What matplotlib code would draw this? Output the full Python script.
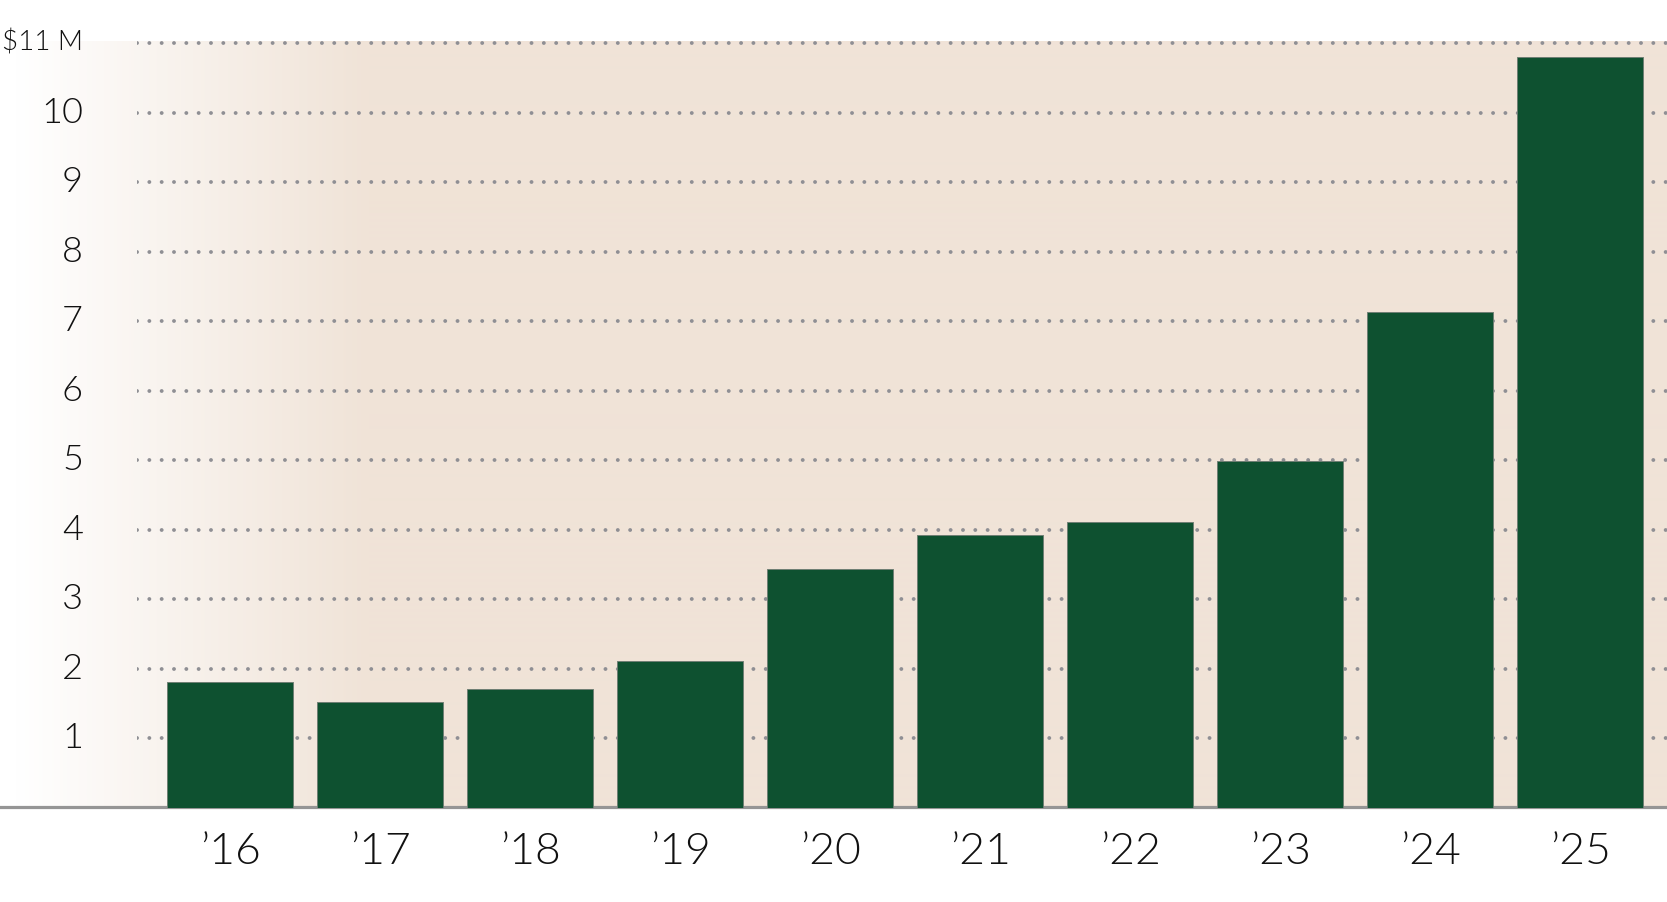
import matplotlib
matplotlib.use('Agg')
import matplotlib.pyplot as plt
import numpy as np
from matplotlib.colors import LinearSegmentedColormap
from matplotlib.lines import Line2D
from matplotlib.transforms import ScaledTranslation

# ---- data ----
years = ["\u201916", "\u201917", "\u201918", "\u201919", "\u201920",
         "\u201921", "\u201922", "\u201923", "\u201924", "\u201925"]
values = [1.81, 1.53, 1.71, 2.12, 3.43, 3.93, 4.12, 4.99, 7.14, 10.80]
y_ticks = [1, 2, 3, 4, 5, 6, 7, 8, 9, 10, 11]
y_tick_labels = ["1", "2", "3", "4", "5", "6", "7", "8", "9", "10", "$11 M"]

plt.rcParams['font.family'] = ['Lato', 'DejaVu Sans']

W, H = 1667, 903
fig = plt.figure(figsize=(W / 100, H / 100), dpi=100)
fig.patch.set_facecolor('white')

bottom_px = 94
top_px = 861
beige = '#f0e3d7'
bar_color = '#0e5130'

# background gradient panel
bg = fig.add_axes([0, bottom_px / H, 1, (top_px - bottom_px) / H], zorder=0)
xs = np.arange(W)
grad = np.clip((xs - 15) / 355.0, 0, 1)
cmap = LinearSegmentedColormap.from_list('bg', ['#ffffff', beige])
bg.imshow(grad[None, :], aspect='auto', cmap=cmap, vmin=0, vmax=1,
          extent=[0, W, 0, 1], interpolation='bilinear')
bg.set_xlim(0, W)
bg.set_ylim(0, 1)
bg.axis('off')

# baseline across full width
fig.add_artist(Line2D([0, 1], [(H - 807.5) / H] * 2, color='#959595',
                      lw=2.3, zorder=0.5, transform=fig.transFigure))

# main axes
ax = fig.add_axes([137 / W, bottom_px / H, 1 - 137 / W, (top_px - bottom_px) / H], zorder=1)
ax.patch.set_visible(False)
x = np.arange(len(years))
ax.bar(x, values, width=0.84, color=bar_color, edgecolor='#6f7f74',
       linewidth=0.7, zorder=3)
for v in y_ticks:
    ax.axhline(v, color='#8f8f94', lw=2.8, linestyle=(0, (0.01, 3.16)),
               dash_capstyle='round', zorder=1)

ax.set_xlim(-0.62, 9.58)
ax.set_ylim(0, 11.03)
ax.set_xticks(x, years)
ax.set_yticks(y_ticks, y_tick_labels)
for s in ax.spines.values():
    s.set_visible(False)
ax.tick_params(axis='y', length=0, pad=38.9, labelsize=26, labelcolor='#111111')
ax.tick_params(axis='x', length=0, pad=17, labelsize=32, labelcolor='#111111')
for lab in ax.get_yticklabels() + ax.get_xticklabels():
    lab.set_fontweight(300)
shift = ScaledTranslation(0, 4 / 100, fig.dpi_scale_trans)
for tick in ax.yaxis.get_major_ticks():
    tick.label1.set_transform(tick.label1.get_transform() + shift)
ax.get_yticklabels()[-1].set_fontsize(20)

fig.savefig('out.png', dpi=100, facecolor='white')
